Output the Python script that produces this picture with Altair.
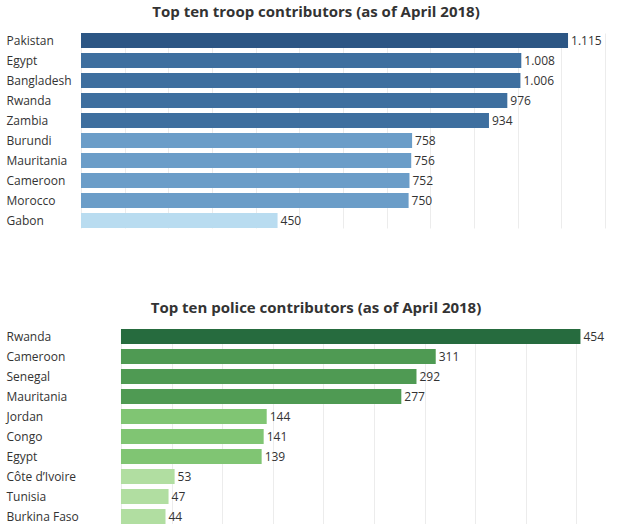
import altair as alt
import pandas as pd

troop_countries = ["Pakistan", "Egypt", "Bangladesh", "Rwanda", "Zambia",
                   "Burundi", "Mauritania", "Cameroon", "Morocco", "Gabon"]
troop_values = [1115, 1008, 1006, 976, 934, 758, 756, 752, 750, 450]

police_countries = ["Rwanda", "Cameroon", "Senegal", "Mauritania", "Jordan",
                    "Congo", "Egypt", "Côte d’Ivoire", "Tunisia", "Burkina Faso"]
police_values = [454, 311, 292, 277, 144, 141, 139, 53, 47, 44]

troop_title = "Top ten troop contributors (as of April 2018)"
police_title = "Top ten police contributors (as of April 2018)"

troop_ticks = list(range(0, 1300, 100))
police_ticks = list(range(0, 550, 50))

troop_thresholds = [600, 850, 1050]
troop_colors = ["#b9dcf0", "#6b9dc8", "#3e6f9f", "#2c5684"]
police_thresholds = [100, 200, 400]
police_colors = ["#b1dea1", "#80c573", "#4f9a53", "#266b3e"]

FONT = "Open Sans"
W = 546


def panel(countries, values, title, ticks, domain, thresholds, colors):
    df = pd.DataFrame({"country": countries, "value": values})
    base = alt.Chart(df).transform_calculate(
        label="replace(format(datum.value, ','), ',', '.')"
    ).encode(
        y=alt.Y("country:N", sort=countries,
                scale=alt.Scale(paddingInner=0.25, paddingOuter=0),
                axis=alt.Axis(title=None, labelAlign="left", labelPadding=75,
                              ticks=False, tickSize=0, domain=False, grid=False,
                              labelFont=FONT, labelFontSize=12, labelColor="#333333")),
        x=alt.X("value:Q", scale=alt.Scale(domain=domain, nice=False, zero=False),
                axis=alt.Axis(title=None, labels=False, ticks=False, domain=False,
                              grid=True, values=ticks, gridColor="#ececec", gridWidth=1)),
    )
    bars = base.mark_bar().encode(
        x2=alt.datum(0),
        color=alt.Color("value:Q", legend=None,
                        scale=alt.Scale(type="threshold", domain=thresholds, range=colors))
    )
    text = base.mark_text(align="left", baseline="middle", dx=3, font=FONT,
                          fontSize=12, color="#333333").encode(text="label:N")
    return alt.layer(bars, text).properties(
        width=W, height=195,
        title=alt.TitleParams(title, font=FONT, fontSize=15, fontWeight="bold",
                              color="#333333", anchor="middle", offset=13, dx=-38),
    )


top = panel(troop_countries, troop_values, troop_title, troop_ticks,
            [0, 1250], troop_thresholds, troop_colors)
bottom = panel(police_countries, police_values, police_title, police_ticks,
               [-39.5, 500], police_thresholds, police_colors)

chart = alt.vconcat(top, bottom, spacing=73).resolve_scale(
    x="independent", y="independent", color="independent"
).properties(
    padding={"left": 6, "top": 5, "right": 0, "bottom": 0}
).configure_view(stroke=None)

chart.save("out.html", embed_options={"renderer": "svg", "actions": False})
